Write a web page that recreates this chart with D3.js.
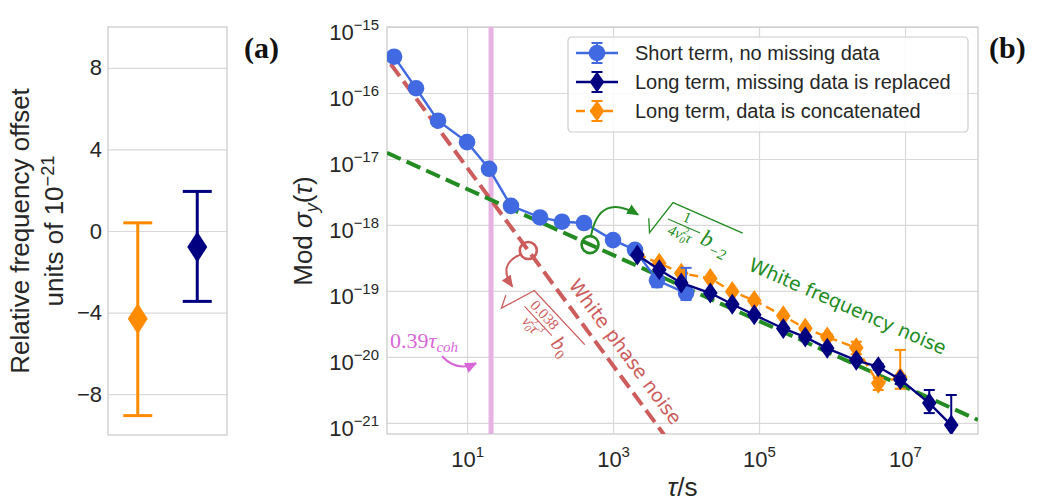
<!DOCTYPE html>
<html>
<head>
<meta charset="utf-8">
<script src="https://cdn.jsdelivr.net/npm/d3@7"></script>
<style>
  body { margin: 0; background: #fff; }
  text { font-family: "Liberation Sans", Arial, sans-serif; fill: #262626; }
  .serif { font-family: "Liberation Serif", "DejaVu Serif", serif; }
  .dv { font-family: "DejaVu Sans", sans-serif; }
</style>
</head>
<body>
<script>
// ---- panel (a): relative frequency offset, units of 1e-21
let offsetNames = ["concatenated", "replaced"];
let offsetValue = [-4.3, -0.78];
let offsetLow = [-9.05, -3.45];
let offsetHigh = [0.4, 1.94];
let yTicksA = [-8, -4, 0, 4, 8];

// ---- panel (b): Mod sigma_y(tau)
let shortTau = [1, 2, 4, 10, 20, 40, 100, 200, 400, 1e3, 2e3, 4e3, 1e4];
let shortSigma = [3.55e-16, 1.18e-16, 3.8e-17, 1.8e-17, 7.1e-18, 1.95e-18, 1.3e-18, 1.12e-18, 1.07e-18, 5.9e-19, 4.2e-19, 1.45e-19, 9.3e-20];
let shortLow = [3.4e-16, 1.13e-16, 3.65e-17, 1.73e-17, 6.8e-18, 1.87e-18, 1.25e-18, 1.07e-18, 1.02e-18, 5.6e-19, 3.9e-19, 1.14e-19, 7.3e-20];
let shortHigh = [3.7e-16, 1.23e-16, 3.95e-17, 1.87e-17, 7.4e-18, 2.03e-18, 1.35e-18, 1.17e-18, 1.12e-18, 6.2e-19, 4.5e-19, 1.71e-19, 2.24e-19];

let longTau = [2.15e3, 4.3e3, 8.6e3, 2.15e4, 4.3e4, 8.6e4, 2.15e5, 4.3e5, 8.6e5, 2.15e6, 4.3e6, 8.6e6, 2.15e7, 4.3e7];
let replacedSigma = [3.5e-19, 2.1e-19, 1.32e-19, 9.3e-20, 6.3e-20, 4.35e-20, 2.7e-20, 2.0e-20, 1.35e-20, 8.9e-21, 7.1e-21, 4.55e-21, 2.0e-21, 9.3e-22];
let replacedLow = [3.3e-19, 2.0e-19, 1.25e-19, 8.8e-20, 6.0e-20, 4.1e-20, 2.55e-20, 1.88e-20, 1.26e-20, 8.2e-21, 6.4e-21, 3.9e-21, 1.41e-21, 5e-23];
let replacedHigh = [3.7e-19, 2.2e-19, 1.39e-19, 9.8e-20, 6.6e-20, 4.6e-20, 2.85e-20, 2.12e-20, 1.44e-20, 9.6e-21, 7.8e-21, 5.2e-21, 3.16e-21, 2.65e-21];

let concatTau = [2.15e3, 4.3e3, 8.6e3, 2.15e4, 4.3e4, 8.6e4, 2.15e5, 4.3e5, 8.6e5, 2.15e6, 4.3e6, 8.6e6];
let concatSigma = [3.6e-19, 2.63e-19, 1.86e-19, 1.55e-19, 9.8e-20, 7.2e-20, 4.2e-20, 2.72e-20, 2.0e-20, 1.38e-20, 4.0e-21, 4.9e-21];
let concatLow = [3.4e-19, 2.5e-19, 1.76e-19, 1.46e-19, 9.2e-20, 6.7e-20, 3.9e-20, 2.5e-20, 1.8e-20, 1.1e-20, 3.16e-21, 3.3e-21];
let concatHigh = [3.8e-19, 2.76e-19, 1.96e-19, 1.64e-19, 1.04e-19, 7.7e-20, 4.5e-20, 2.95e-20, 2.2e-20, 1.7e-20, 4.8e-21, 1.28e-20];

let seriesNames = ["Short term, no missing data", "Long term, missing data is replaced", "Long term, data is concatenated"];

let xTicksB = [1e1, 1e3, 1e5, 1e7];
let yTicksB = [1e-15, 1e-16, 1e-17, 1e-18, 1e-19, 1e-20, 1e-21];

// noise models, straight lines in log-log: two end points each
let phaseLineTau = [0.9, 5000];
let phaseLineSigma = [2.75e-16, 6.65e-22];
let freqLineTau = [0.8, 1e8];
let freqLineSigma = [1.24e-17, 1.11e-21];
let tauCohMark = 21.3;        // 0.39 tau_coh
let phaseCircleTau = 69, freqCircleTau = 484;

let col = {short: "#4169e1", replaced: "#000080", concat: "#ff8c00",
  phase: "#cd5c5c", freq: "#228b22", coh: "#d966d9", cohLine: "#e6b2e3", grid: "#d9d9d9", frame: "#cccccc"};

let svg = d3.select("body").append("svg").attr("width", 1039).attr("height", 501);
let defs = svg.append("defs");
[["phase", col.phase], ["freq", col.freq], ["coh", col.coh]].forEach(function(m) {
  defs.append("marker").attr("id", "head-" + m[0])
    .attr("viewBox", "0 -5 10 10").attr("refX", 9).attr("refY", 0)
    .attr("markerUnits", "userSpaceOnUse").attr("markerWidth", 12).attr("markerHeight", 12)
    .attr("orient", "auto")
    .append("path").attr("d", "M0,-4.5L10,0L0,4.5Z").attr("fill", m[1]);
});

function thinDiamond(w, h) { return "M0," + (-h) + "L" + w + ",0L0," + h + "L" + (-w) + ",0Z"; }

// ================= panel (a)
let ma = {left: 108, top: 27, right: 227, bottom: 435};
let xA = d3.scalePoint().domain(offsetNames).range([ma.left, ma.right]).padding(0.5);
let yA = d3.scaleLinear().domain([-10, 10]).range([ma.bottom, ma.top]);

let axA = svg.append("g")
  .attr("transform", "translate(" + ma.left + ",0)")
  .call(d3.axisLeft(yA).tickValues(yTicksA).tickSize(-(ma.right - ma.left)).tickPadding(6));
axA.select(".domain").remove();
axA.selectAll("line").attr("stroke", col.grid).attr("stroke-width", 1.2);
axA.selectAll("text").attr("font-size", 22).style("fill", "#262626");

svg.append("rect").attr("x", ma.left).attr("y", ma.top)
  .attr("width", ma.right - ma.left).attr("height", ma.bottom - ma.top)
  .attr("fill", "none").attr("stroke", col.frame).attr("stroke-width", 1.3);

let offsetColors = [col.concat, col.replaced];
offsetNames.forEach(function(n, i) {
  let g = svg.append("g");
  let x = xA(n);
  g.append("line").attr("x1", x).attr("x2", x).attr("y1", yA(offsetLow[i])).attr("y2", yA(offsetHigh[i]))
    .attr("stroke", offsetColors[i]).attr("stroke-width", 3);
  [offsetLow[i], offsetHigh[i]].forEach(function(v) {
    g.append("line").attr("x1", x - 14.5).attr("x2", x + 14.5).attr("y1", yA(v)).attr("y2", yA(v))
      .attr("stroke", offsetColors[i]).attr("stroke-width", 3);
  });
  g.append("path").attr("d", thinDiamond(10, 15.5))
    .attr("transform", "translate(" + x + "," + yA(offsetValue[i]) + ")")
    .attr("fill", offsetColors[i]);
});

svg.append("text").attr("transform", "translate(29," + ((ma.top + ma.bottom) / 2) + ") rotate(-90)")
  .attr("text-anchor", "middle").attr("font-size", 26).text("Relative frequency offset");
let unitLab = svg.append("text").attr("transform", "translate(63," + ((ma.top + ma.bottom) / 2) + ") rotate(-90)")
  .attr("text-anchor", "middle").attr("font-size", 26);
unitLab.append("tspan").text("units of 10");
unitLab.append("tspan").attr("dy", "-0.5em").attr("font-size", "0.7em").text("−21");

svg.append("text").attr("class", "serif").attr("x", 244).attr("y", 58)
  .attr("font-size", 30).attr("font-weight", "bold").style("fill", "#111").text("(a)");

// ================= panel (b)
let mb = {left: 387, top: 27, right: 978, bottom: 434};
let xB = d3.scaleLog().domain([0.8, 1e8]).range([mb.left, mb.right]);
let yB = d3.scaleLog().domain([6.8e-22, 1e-15]).range([mb.bottom, mb.top]);

function powLabel(sel) {
  sel.each(function(d) {
    let e = Math.round(Math.log10(d));
    let t = d3.select(this).text(null);
    t.append("tspan").text("10");
    t.append("tspan").attr("dy", "-0.62em").attr("font-size", "0.68em").text(e < 0 ? "−" + (-e) : String(e));
  });
}

let axBy = svg.append("g").attr("transform", "translate(" + mb.left + ",0)")
  .call(d3.axisLeft(yB).tickValues(yTicksB).tickSize(-(mb.right - mb.left)).tickPadding(8));
axBy.select(".domain").remove();
axBy.selectAll("line").attr("stroke", col.grid).attr("stroke-width", 1.2);
axBy.selectAll("text").attr("font-size", 22).attr("dy", "0.55em").style("fill", "#262626").call(powLabel);

let axBx = svg.append("g").attr("transform", "translate(0," + mb.bottom + ")")
  .call(d3.axisBottom(xB).tickValues(xTicksB).tickSize(-(mb.bottom - mb.top)).tickPadding(17));
axBx.select(".domain").remove();
axBx.selectAll("line").attr("stroke", col.grid).attr("stroke-width", 1.2);
axBx.selectAll("text").attr("font-size", 22).style("fill", "#262626").call(powLabel);

svg.append("rect").attr("x", mb.left).attr("y", mb.top)
  .attr("width", mb.right - mb.left).attr("height", mb.bottom - mb.top)
  .attr("fill", "none").attr("stroke", col.frame).attr("stroke-width", 1.3);

defs.append("clipPath").attr("id", "clipB").append("rect")
  .attr("x", mb.left).attr("y", mb.top).attr("width", mb.right - mb.left).attr("height", mb.bottom - mb.top);
let plotB = svg.append("g").attr("clip-path", "url(#clipB)");

// 0.39 tau_coh marker line
plotB.append("line").attr("x1", xB(tauCohMark)).attr("x2", xB(tauCohMark))
  .attr("y1", mb.top).attr("y2", mb.bottom).attr("stroke", col.cohLine).attr("stroke-width", 5);

// noise model lines
let line2 = d3.line().x(function(d) { return xB(d[0]); }).y(function(d) { return yB(d[1]); });
plotB.append("path").attr("d", line2(d3.zip(phaseLineTau, phaseLineSigma)))
  .attr("fill", "none").attr("stroke", col.phase).attr("stroke-width", 4).attr("stroke-dasharray", "15,6.5");
plotB.append("path").attr("d", line2(d3.zip(freqLineTau, freqLineSigma)))
  .attr("fill", "none").attr("stroke", col.freq).attr("stroke-width", 4).attr("stroke-dasharray", "15,6.5");

// data series
function drawSeries(tau, sig, lo, hi, color, dash, marker) {
  let rows = tau.map(function(t, i) { return {t: t, s: sig[i], lo: lo[i], hi: hi[i]}; });
  let g = plotB.append("g");
  g.append("path").attr("d", line2(rows.map(function(r) { return [r.t, r.s]; })))
    .attr("fill", "none").attr("stroke", color).attr("stroke-width", 2.4)
    .attr("stroke-dasharray", dash);
  let eb = g.selectAll(".eb").data(rows).enter().append("g");
  eb.append("line").attr("x1", function(r) { return xB(r.t); }).attr("x2", function(r) { return xB(r.t); })
    .attr("y1", function(r) { return yB(r.lo); }).attr("y2", function(r) { return yB(r.hi); })
    .attr("stroke", color).attr("stroke-width", 2);
  ["lo", "hi"].forEach(function(k) {
    eb.append("line").attr("x1", function(r) { return xB(r.t) - 5.5; }).attr("x2", function(r) { return xB(r.t) + 5.5; })
      .attr("y1", function(r) { return yB(r[k]); }).attr("y2", function(r) { return yB(r[k]); })
      .attr("stroke", color).attr("stroke-width", 2);
  });
  g.selectAll(".mk").data(rows).enter().append("path")
    .attr("d", marker)
    .attr("transform", function(r) { return "translate(" + xB(r.t) + "," + yB(r.s) + ")"; })
    .attr("fill", color);
}
let circleMk = d3.symbol().type(d3.symbolCircle).size(Math.PI * 8.3 * 8.3)();
let diamondMk = thinDiamond(7.3, 10.5);
drawSeries(concatTau, concatSigma, concatLow, concatHigh, col.concat, "9,5", diamondMk);
drawSeries(shortTau, shortSigma, shortLow, shortHigh, col.short, null, circleMk);
drawSeries(longTau, replacedSigma, replacedLow, replacedHigh, col.replaced, null, diamondMk);

// ---- annotations
function phaseAt(t) { return phaseLineSigma[0] * Math.pow(t / phaseLineTau[0], -1.5); }
function freqAt(t) { return freqLineSigma[0] * Math.pow(t / freqLineTau[0], -0.5); }

let pc = [xB(phaseCircleTau), yB(phaseAt(phaseCircleTau))];
let fc = [xB(freqCircleTau), yB(freqAt(freqCircleTau))];
let ann = svg.append("g");

ann.append("circle").attr("cx", pc[0]).attr("cy", pc[1]).attr("r", 8.5)
  .attr("fill", "none").attr("stroke", col.phase).attr("stroke-width", 2.6);
ann.append("circle").attr("cx", fc[0]).attr("cy", fc[1]).attr("r", 8.5)
  .attr("fill", "none").attr("stroke", col.freq).attr("stroke-width", 2.6);

function curved(p, a, c, b, color, id) {
  ann.append("path")
    .attr("d", "M" + (p[0] + a[0]) + "," + (p[1] + a[1]) + "Q" + (p[0] + c[0]) + "," + (p[1] + c[1]) + " " + (p[0] + b[0]) + "," + (p[1] + b[1]))
    .attr("fill", "none").attr("stroke", color).attr("stroke-width", 2).attr("marker-end", "url(#head-" + id + ")");
}
curved(pc, [-8, 4], [-31, 14], [-16, 36], col.phase, "phase");
curved(fc, [1, -9], [9.5, -52.5], [48, -30], col.freq, "freq");

// sqrt(1/(4 nu0^2 tau) b_-2)
let gf = ann.append("g").attr("transform", "translate(" + (fc[0] + 83) + "," + (fc[1] - 42) + ") rotate(23.6)");
gf.append("path").attr("d", "M-16,24L-9.5,37L0,0H76").attr("fill", "none").attr("stroke", col.freq).attr("stroke-width", 1.3);
gf.append("text").attr("class", "serif").attr("x", 19).attr("y", 13).attr("text-anchor", "middle")
  .attr("font-size", 15).style("fill", col.freq).text("1");
gf.append("path").attr("d", "M2,17H37").attr("stroke", col.freq).attr("stroke-width", 1.1);
let denF = gf.append("text").attr("class", "serif").attr("x", 19).attr("y", 31).attr("text-anchor", "middle")
  .attr("font-size", 15).attr("font-style", "italic").style("fill", col.freq);
denF.append("tspan").text("4ν");
denF.append("tspan").attr("dy", 3).attr("font-size", 10).text("0");
denF.append("tspan").attr("dx", -5).attr("dy", -10).attr("font-size", 10).text("2");
denF.append("tspan").attr("dy", 7).text("τ");
let bF = gf.append("text").attr("class", "serif").attr("x", 40).attr("y", 27)
  .attr("font-size", 23).attr("font-style", "italic").style("fill", col.freq);
bF.append("tspan").text("b");
bF.append("tspan").attr("dy", 6).attr("font-size", 15).text("−2");

// sqrt(0.038/(nu0^2 tau^3) b0)
let gp = ann.append("g").attr("transform", "translate(" + (pc[0] + 6) + "," + (pc[1] + 40) + ") rotate(47)");
gp.append("path").attr("d", "M-16,24L-9.5,36L0,0H74").attr("fill", "none").attr("stroke", col.phase).attr("stroke-width", 1.3);
gp.append("text").attr("class", "serif").attr("x", 25).attr("y", 14).attr("text-anchor", "middle")
  .attr("font-size", 15).style("fill", col.phase).text("0.038");
gp.append("path").attr("d", "M5,18H45").attr("stroke", col.phase).attr("stroke-width", 1.1);
let denP = gp.append("text").attr("class", "serif").attr("x", 25).attr("y", 31).attr("text-anchor", "middle")
  .attr("font-size", 15).attr("font-style", "italic").style("fill", col.phase);
denP.append("tspan").text("ν");
denP.append("tspan").attr("dy", 3).attr("font-size", 10).text("0");
denP.append("tspan").attr("dx", -5).attr("dy", -10).attr("font-size", 10).text("2");
denP.append("tspan").attr("dy", 7).text("τ");
denP.append("tspan").attr("dy", -7).attr("font-size", 10).text("3");
let bP = gp.append("text").attr("class", "serif").attr("x", 50).attr("y", 25)
  .attr("font-size", 21).attr("font-style", "italic").style("fill", col.phase);
bP.append("tspan").text("b");
bP.append("tspan").attr("dy", 5).attr("font-size", 14).attr("font-style", "normal").text("0");

// noise labels along the lines
ann.append("text").attr("class", "dv")
  .attr("transform", "translate(" + xB(1247) + "," + yB(1.05e-20) + ") rotate(53.5)")
  .attr("text-anchor", "middle").attr("font-size", 19).style("fill", col.phase).text("White phase noise");
ann.append("text").attr("class", "dv")
  .attr("transform", "translate(" + xB(1.51e6) + "," + yB(4.74e-20) + ") rotate(23.6)")
  .attr("text-anchor", "middle").attr("font-size", 19).style("fill", col.freq).text("White frequency noise");

// 0.39 tau_coh label
let cohAnchor = [xB(0.88), yB(1.355e-20)];
let coh = ann.append("text").attr("class", "serif").attr("x", cohAnchor[0]).attr("y", cohAnchor[1])
  .attr("font-size", 22).style("fill", col.coh);
coh.append("tspan").text("0.39");
coh.append("tspan").attr("font-style", "italic").text("τ");
coh.append("tspan").attr("font-style", "italic").attr("font-size", 15).attr("dy", 4).text("coh");
curved(cohAnchor, [52, 8], [67, 24], [86, 15], col.coh, "coh");

// legend
let lg = svg.append("g").attr("transform", "translate(568,37)");
lg.append("rect").attr("width", 400).attr("height", 95).attr("rx", 4)
  .attr("fill", "#fff").attr("fill-opacity", 0.85).attr("stroke", col.frame).attr("stroke-width", 1.2);
let legendColors = [col.short, col.replaced, col.concat];
let legendMarks = [circleMk, diamondMk, diamondMk];
let legendDash = [null, null, "9,5"];
seriesNames.forEach(function(name, i) {
  let y = 16 + i * 29;
  let g = lg.append("g").attr("transform", "translate(0," + y + ")");
  g.append("line").attr("x1", 8).attr("x2", 50).attr("y1", 0).attr("y2", 0)
    .attr("stroke", legendColors[i]).attr("stroke-width", 2.4).attr("stroke-dasharray", legendDash[i]);
  g.append("line").attr("x1", 29).attr("x2", 29).attr("y1", -10).attr("y2", 10)
    .attr("stroke", legendColors[i]).attr("stroke-width", 2);
  [-10, 10].forEach(function(c) {
    g.append("line").attr("x1", 23.5).attr("x2", 34.5).attr("y1", c).attr("y2", c)
      .attr("stroke", legendColors[i]).attr("stroke-width", 2);
  });
  g.append("path").attr("d", legendMarks[i]).attr("transform", "translate(29,0)").attr("fill", legendColors[i]);
  g.append("text").attr("x", 67).attr("y", 7).attr("font-size", 20).text(name);
});

// axis titles
let ylab = svg.append("text").attr("transform", "translate(312,231) rotate(-90)")
  .attr("text-anchor", "middle").attr("font-size", 26);
ylab.append("tspan").text("Mod ");
ylab.append("tspan").attr("font-style", "italic").text("σ");
ylab.append("tspan").attr("font-style", "italic").attr("font-size", 18).attr("dy", 6).text("y");
ylab.append("tspan").attr("dy", -6).text("(");
ylab.append("tspan").attr("font-style", "italic").text("τ");
ylab.append("tspan").text(")");

let xlab = svg.append("text").attr("x", (mb.left + mb.right) / 2).attr("y", 496)
  .attr("text-anchor", "middle").attr("font-size", 26);
xlab.append("tspan").attr("font-style", "italic").text("τ");
xlab.append("tspan").text("/s");

svg.append("text").attr("class", "serif").attr("x", 989).attr("y", 58)
  .attr("font-size", 30).attr("font-weight", "bold").style("fill", "#111").text("(b)");
</script>
</body>
</html>
